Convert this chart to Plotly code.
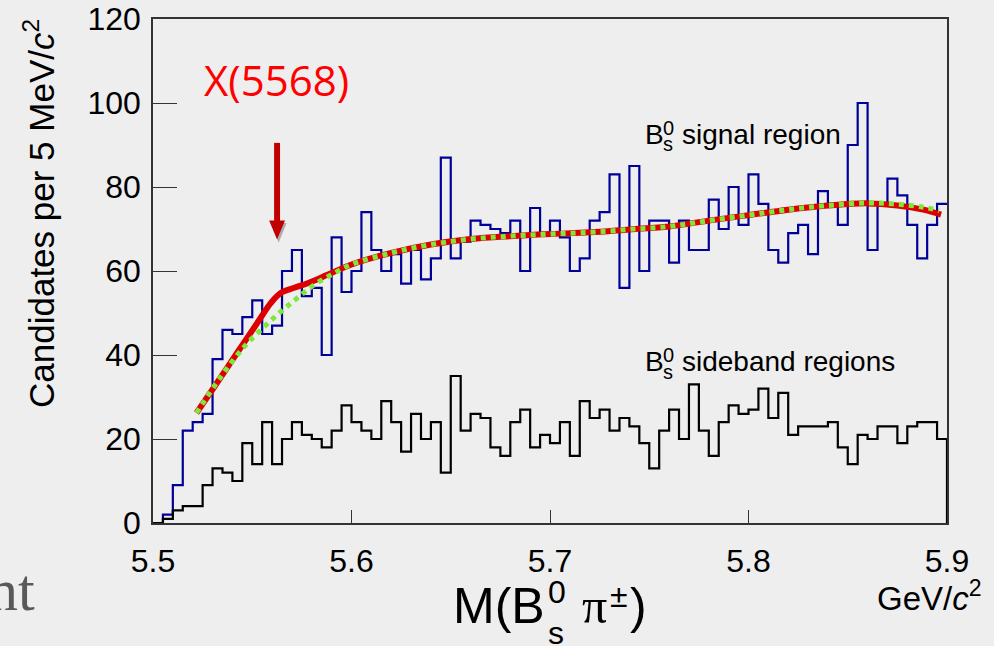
import numpy as np
import plotly.graph_objects as go

# ---------------- data ----------------
bin_start = 5.5          # GeV/c^2
bin_width = 0.005        # 5 MeV/c^2

signal_counts = [0, 2, 9, 22, 24, 26, 39, 46, 45, 49,
                 53, 45, 47, 60, 65, 54, 56, 40, 68, 55,
                 60, 74, 65, 60, 64, 57, 65, 58, 63, 87,
                 63, 67, 72, 71, 70, 69, 72, 60, 75, 69,
                 72, 68, 60, 63, 72, 74, 83, 56, 85, 60,
                 72, 72, 62, 72, 65, 65, 77, 70, 80, 71,
                 83, 76, 65, 62, 69, 71, 64, 79, 76, 71,
                 90, 100, 65, 76, 82, 78, 71, 63, 71, 76]

sideband_counts = [0, 1, 3, 4, 4, 9, 13, 12, 10, 19,
                   14, 24, 14, 20, 24, 21, 20, 18, 22, 28,
                   24, 22, 20, 29, 24, 17, 26, 20, 24, 12,
                   35, 22, 26, 25, 18, 16, 24, 27, 18, 21,
                   19, 24, 16, 29, 25, 27, 22, 25, 23, 19,
                   13, 22, 27, 20, 33, 22, 16, 24, 28, 26,
                   27, 32, 25, 31, 21, 23, 23, 23, 24, 18,
                   14, 21, 20, 23, 23, 19, 23, 24, 24, 20]

fit_total_x = [5.5219, 5.531, 5.5435, 5.5536, 5.5594, 5.5645, 5.5712, 5.5779,
               5.5879, 5.5997, 5.62, 5.64, 5.66, 5.68, 5.70, 5.72, 5.74, 5.76,
               5.78, 5.80, 5.82, 5.84, 5.86, 5.875, 5.888, 5.897]
fit_total_y = [26.2, 32.5, 41.3, 48.4, 52.4, 54.8, 56.0, 57.1,
               59.1, 61.5, 64.3, 66.3, 67.6, 68.3, 68.8, 69.2, 69.9, 70.6,
               72.0, 73.3, 74.6, 75.6, 76.1, 75.6, 74.6, 73.4]

fit_bkg_x = [5.5219, 5.5343, 5.546, 5.5553, 5.5636, 5.572, 5.5812, 5.5913,
             5.5997, 5.62, 5.64, 5.66, 5.68, 5.70, 5.72, 5.74, 5.76,
             5.78, 5.80, 5.82, 5.84, 5.86, 5.875, 5.888, 5.896]
fit_bkg_y = [26.2, 34.9, 42.0, 46.4, 50.0, 53.3, 56.7, 59.5,
             61.5, 64.3, 66.3, 67.6, 68.3, 68.8, 69.2, 69.9, 70.6,
             72.0, 73.3, 74.6, 75.6, 76.2, 75.9, 75.2, 74.4]

x_ticks = [5.5, 5.6, 5.7, 5.8, 5.9]
x_tick_labels = ["5.5", "5.6", "5.7", "5.8", "5.9"]
y_ticks = [0, 20, 40, 60, 80, 100, 120]
y_tick_labels = ["0", "20", "40", "60", "80", "100", "120"]

x_range = [5.5, 5.9]
y_range = [0, 120]

# X(5568) marker arrow (data coordinates)
arrow_x = 5.5625
arrow_top = 90.5
arrow_head_base = 72.0
arrow_tip = 67.5

# ---------------- layout constants ----------------
W, H = 994, 646
ML, MR, MT, MB = 153, 47, 19, 123
PW, PH = W - ML - MR, H - MT - MB
BG = "#eeeeee"
SANS = "Liberation Sans, Arial, Helvetica, sans-serif"
SERIF = "Liberation Serif, Times New Roman, serif"


def px(xp):
    return (xp - ML) / PW


def py(yp):
    return (H - MB - yp) / PH


edges = bin_start + bin_width * np.arange(len(signal_counts) + 1)

fig = go.Figure()

# signal-region histogram (blue)
fig.add_trace(go.Scatter(
    x=edges, y=list(signal_counts) + [signal_counts[-1]],
    mode="lines", line=dict(shape="hv", color="#000099", width=2.2),
    hoverinfo="skip", showlegend=False))

# sideband histogram (black)
fig.add_trace(go.Scatter(
    x=list(edges) + [edges[-1]], y=list(sideband_counts) + [sideband_counts[-1], 0],
    mode="lines", line=dict(shape="hv", color="#000000", width=2.2),
    hoverinfo="skip", showlegend=False))

# total fit (red solid)
fig.add_trace(go.Scatter(
    x=fit_total_x, y=fit_total_y, mode="lines",
    line=dict(shape="spline", color="#dd0000", width=6),
    hoverinfo="skip", showlegend=False))

# background-only fit (green dotted)
fig.add_trace(go.Scatter(
    x=fit_bkg_x, y=fit_bkg_y, mode="lines",
    line=dict(shape="spline", color="#7ee83a", width=5, dash="dot"),
    hoverinfo="skip", showlegend=False))

# arrow: shadow, shaft and head
hw = 0.004   # head half width (x units)
sw = 0.0015  # shaft half width
fig.add_shape(type="path", xref="x", yref="y",
              path=f"M {arrow_x - hw + 0.0008} {arrow_head_base - 0.6} L {arrow_x + hw + 0.0008} {arrow_head_base - 0.6} "
                   f"L {arrow_x + 0.0008} {arrow_tip - 0.8} Z",
              fillcolor="rgba(120,120,120,0.55)", line=dict(width=0), layer="above")
fig.add_shape(type="rect", xref="x", yref="y",
              x0=arrow_x - sw, x1=arrow_x + sw, y0=arrow_head_base - 0.5, y1=arrow_top,
              fillcolor="#c00000", line=dict(width=0), layer="above")
fig.add_shape(type="path", xref="x", yref="y",
              path=f"M {arrow_x - hw} {arrow_head_base} L {arrow_x + hw} {arrow_head_base} "
                   f"L {arrow_x} {arrow_tip} Z",
              fillcolor="#c00000", line=dict(width=0), layer="above")

ann = []


def text(t, x, y, size, color="#000000", family=SANS, xanchor="left", yanchor="middle", angle=0):
    ann.append(dict(text=t, x=x, y=y, xref="paper", yref="paper",
                    xanchor=xanchor, yanchor=yanchor, showarrow=False,
                    textangle=angle, borderpad=0,
                    font=dict(size=size, color=color, family=family)))


# X(5568) label
text("X(5568)", px(276), py(79), 42, color="#ff0000",
     family="Open Sans, Noto Sans, sans-serif", xanchor="center")

# B_s^0 signal region
text("B", px(644), py(134.3), 28)
text("0", px(662), py(127.5), 20)
text("s", px(662), py(144), 20)
text("signal region", px(680.5), py(134.3), 28)

# B_s^0 sideband regions
text("B", px(644), py(361.7), 28)
text("0", px(662), py(355), 20)
text("s", px(662), py(371.5), 20)
text("sideband regions", px(680.5), py(361.7), 28)

# x-axis title M(B_s^0 pi^±)
text("M(B", px(452), py(605.7), 50)
text("0", px(547), py(592), 32)
text("s", px(547), py(633), 32)
text("π", px(581), py(606), 50, family=SERIF)
text("±", px(609), py(596), 32)
text(")", px(629), py(605.7), 50)

# unit
text("GeV/<i>c</i><sup>2</sup>", px(876), py(596), 33)

# y-axis title
text("Candidates per 5 MeV/<i>c</i><sup>2</sup>", px(39), py(214), 35,
     xanchor="center", angle=-90)

# stray slide text at lower left
text("nt", px(36), py(590), 60, color="#595959", family=SERIF, xanchor="right")

fig.update_layout(
    width=W, height=H,
    margin=dict(l=ML, r=MR, t=MT, b=MB, pad=0, autoexpand=False),
    paper_bgcolor=BG, plot_bgcolor=BG,
    annotations=ann,
    showlegend=False,
    xaxis=dict(range=x_range, tickvals=x_ticks, ticktext=x_tick_labels,
               ticks="inside", ticklen=13, tickwidth=1.3, tickcolor="#333333",
               showline=True, linecolor="#333333", linewidth=1.5, mirror=True,
               showgrid=False, zeroline=False, automargin=False,
               tickfont=dict(size=32, family=SANS, color="#000000"),
               ticklabelstandoff=9),
    yaxis=dict(range=y_range, tickvals=y_ticks, ticktext=y_tick_labels,
               ticks="inside", ticklen=24, tickwidth=1.3, tickcolor="#333333",
               showline=True, linecolor="#333333", linewidth=1.5, mirror=True,
               showgrid=False, zeroline=False, automargin=False,
               tickfont=dict(size=32, family=SANS, color="#000000"),
               ticklabelstandoff=4),
)

fig.write_html(
    "out.html",
    config={"displayModeBar": False},
    post_script="document.body.style.margin='0';document.body.style.background='#eeeeee';"
                "document.body.style.overflow='hidden';",
)
